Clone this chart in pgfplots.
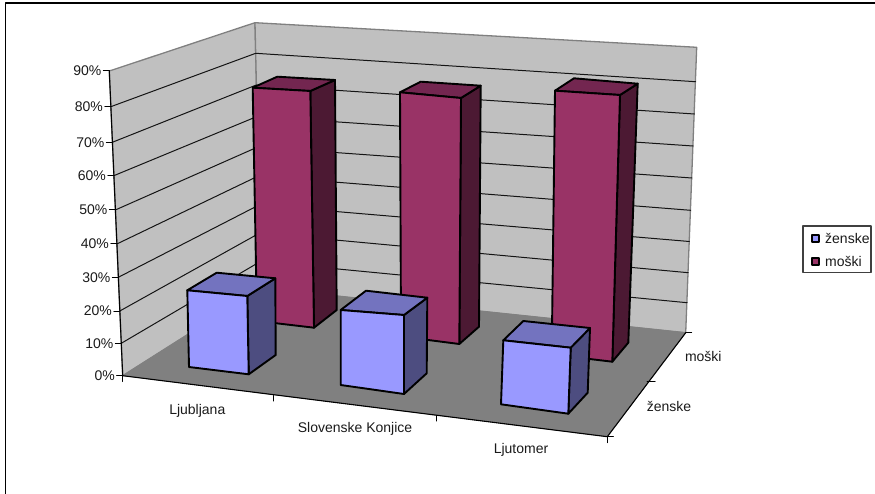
\documentclass[border=0pt]{standalone}
\usepackage{pgfplots}
\pgfplotsset{compat=1.18}
\usepackage{fontspec}
\setmainfont{Liberation Sans}
\definecolor{wall}{HTML}{C0C0C0}
\definecolor{floorc}{HTML}{808080}
\definecolor{zfront}{HTML}{9999FF}
\definecolor{ztop}{HTML}{7373BF}
\definecolor{zside}{HTML}{4D4D80}
\definecolor{mfront}{HTML}{993366}
\definecolor{mtop}{HTML}{732650}
\definecolor{mside}{HTML}{4C1933}
\definecolor{txt}{HTML}{1A1A1A}
\tikzset{
  wallface/.style={fill=wall, draw=floorc, line width=1.3pt},
  grid seg/.style={draw=black!92, line width=1pt},
  axis seg/.style={draw=black, line width=1.1pt},
  tick seg/.style={draw=black, line width=1pt},
  face/.style={fill=#1, draw=black, line width=1.9pt},
  lbl/.style={font=\fontsize{14}{16}\selectfont, text=txt, inner sep=0pt},
}
\begin{document}
\begin{tikzpicture}[x=1pt,y=1pt]
\path[use as bounding box] (0,0) rectangle (875,494);
\begin{axis}[
  at={(0,0)}, anchor=south west,
  width=875pt, height=494pt, scale only axis,
  xmin=0, xmax=875, ymin=0, ymax=494, y dir=reverse,
  hide axis, clip=false,
  every axis plot/.append style={no markers, line join=round, line cap=round},
]
% chart frame: only the top and left rules show
\addplot[draw=black, line width=1.8pt] coordinates {(5.5,494) (5.5,3) (875,3)};

% side and back walls
\addplot[wallface] coordinates {(109.3,71) (255,22.7) (261,288) (122.7,375.7)} --cycle;
\addplot[wallface] coordinates {(255,22.7) (696.7,47.3) (685.7,332.7) (261,288)} --cycle;

% gridlines, 10% to 80%, running over both walls
\addplot[grid seg] coordinates {(121.3,343.3) (260.3,261.5) (687.0,302.7)};
\addplot[grid seg] coordinates {(119.8,311.0) (259.7,233.0) (688.2,272.7)};
\addplot[grid seg] coordinates {(118.3,277.3) (259.0,205.0) (689.4,241.5)};
\addplot[grid seg] coordinates {(116.8,244.0) (258.3,176.0) (690.6,210.3)};
\addplot[grid seg] coordinates {(115.3,210.0) (257.7,147.0) (691.9,178.0)};
\addplot[grid seg] coordinates {(113.8,175.7) (257.0,116.5) (693.1,146.0)};
\addplot[grid seg] coordinates {(112.3,142.3) (256.3,85.0) (694.3,114.0)};
\addplot[grid seg] coordinates {(110.8,106.7) (255.7,53.3) (695.5,81.7)};

% floor
\addplot[fill=floorc, draw=floorc, line width=0.6pt] coordinates {(122.7,375.7) (261,288) (685.7,332.7) (607.3,436.7)} --cycle;

% value axis with its ticks
\addplot[axis seg] coordinates {(109.3,71) (122.7,375.7)};
\addplot[tick seg] coordinates {(103.3,71) (109.3,71)};
\addplot[tick seg] coordinates {(104.8,106.7) (110.8,106.7)};
\addplot[tick seg] coordinates {(106.3,142.3) (112.3,142.3)};
\addplot[tick seg] coordinates {(107.8,175.7) (113.8,175.7)};
\addplot[tick seg] coordinates {(109.3,210) (115.3,210)};
\addplot[tick seg] coordinates {(110.8,244) (116.8,244)};
\addplot[tick seg] coordinates {(112.3,277.3) (118.3,277.3)};
\addplot[tick seg] coordinates {(113.8,311) (119.8,311)};
\addplot[tick seg] coordinates {(115.3,343.3) (121.3,343.3)};
\addplot[tick seg] coordinates {(116.7,375.7) (122.7,375.7)};

% category and series axes with their ticks
\addplot[axis seg] coordinates {(122.7,375.7) (607.3,436.7) (685.7,332.7)};
\addplot[tick seg] coordinates {(122.7,375.7) (122.7,381.5)};
\addplot[tick seg] coordinates {(273.7,395.5) (273.7,401)};
\addplot[tick seg] coordinates {(436.7,415.7) (436.7,421)};
\addplot[tick seg] coordinates {(607.3,436.7) (607.3,442.7)};
\addplot[tick seg] coordinates {(607.3,436.7) (613.3,436.7)};
\addplot[tick seg] coordinates {(647.0,381.7) (655.0,381.7)};
\addplot[tick seg] coordinates {(685.7,332.7) (691.7,332.7)};

% moški columns
\addplot[face=mside]  coordinates {(310.3,91) (335,80) (336.7,310) (314,327.7)} --cycle;
\addplot[face=mtop]   coordinates {(252.7,87.7) (310.3,91) (335,80) (277.3,76.7)} --cycle;
\addplot[face=mfront] coordinates {(252.7,87.7) (310.3,91) (314,327.7) (257,321)} --cycle;

\addplot[face=mside]  coordinates {(461,98) (480.7,85.7) (479,326.7) (459.3,344)} --cycle;
\addplot[face=mtop]   coordinates {(400,92.3) (461,98) (480.7,85.7) (420.7,81.7)} --cycle;
\addplot[face=mfront] coordinates {(400,92.3) (461,98) (459.3,344) (401,336.5)} --cycle;

\addplot[face=mside]  coordinates {(620,95) (637.7,83.7) (628.3,342.7) (612.3,361.7)} --cycle;
\addplot[face=mtop]   coordinates {(555,90.7) (620,95) (637.7,83.7) (574,78.3)} --cycle;
\addplot[face=mfront] coordinates {(555,90.7) (620,95) (612.3,361.7) (551.7,354.5)} --cycle;

% ženske columns
\addplot[face=zside]  coordinates {(247.3,296) (275.3,278.3) (275.7,355) (248.7,374.3)} --cycle;
\addplot[face=ztop]   coordinates {(187.3,290.3) (247.3,296) (275.3,278.3) (216.7,272.7)} --cycle;
\addplot[face=zfront] coordinates {(187.3,290.3) (247.3,296) (248.7,374.3) (189,367)} --cycle;

\addplot[face=zside]  coordinates {(404,315) (427.3,297.7) (426.7,373.3) (404,394)} --cycle;
\addplot[face=ztop]   coordinates {(340.7,310) (404,315) (427.3,297.7) (366,290.7)} --cycle;
\addplot[face=zfront] coordinates {(340.7,310) (404,315) (404,394) (340.7,385)} --cycle;

\addplot[face=zside]  coordinates {(570.7,347.7) (590,328) (587.7,392.7) (568.3,413.7)} --cycle;
\addplot[face=ztop]   coordinates {(503.3,340.3) (570.7,347.7) (590,328) (523.3,321)} --cycle;
\addplot[face=zfront] coordinates {(503.3,340.3) (570.7,347.7) (568.3,413.7) (501,404.3)} --cycle;

% value labels
\node[lbl, anchor=east] at (axis cs:101.5,71)    {90\%};
\node[lbl, anchor=east] at (axis cs:103,106.7)   {80\%};
\node[lbl, anchor=east] at (axis cs:104.5,142.3) {70\%};
\node[lbl, anchor=east] at (axis cs:106,175.7)   {60\%};
\node[lbl, anchor=east] at (axis cs:107.5,210)   {50\%};
\node[lbl, anchor=east] at (axis cs:109,244)     {40\%};
\node[lbl, anchor=east] at (axis cs:110.5,277.3) {30\%};
\node[lbl, anchor=east] at (axis cs:112,311)     {20\%};
\node[lbl, anchor=east] at (axis cs:113.5,343.3) {10\%};
\node[lbl, anchor=east] at (axis cs:115,375.7)   {0\%};

% category and series labels
\node[lbl] at (axis cs:197.3,411) {Ljubljana};
\node[lbl] at (axis cs:355,429)   {Slovenske Konjice};
\node[lbl] at (axis cs:521,450)   {Ljutomer};
\node[lbl] at (axis cs:669,406.7) {ženske};
\node[lbl] at (axis cs:703.3,356) {moški};

% legend
\addplot[fill=white, draw=black!75, line width=1.1pt] coordinates {(803,226) (871,226) (871,272.3) (803,272.3)} --cycle;
\addplot[fill=zfront, draw=black, line width=1.5pt] coordinates {(812,234.8) (819,234.8) (819,241.8) (812,241.8)} --cycle;
\addplot[fill=mfront, draw=black, line width=1.5pt] coordinates {(812,258.2) (819,258.2) (819,265.2) (812,265.2)} --cycle;
\node[lbl, anchor=west] at (axis cs:825,238.3) {ženske};
\node[lbl, anchor=west] at (axis cs:825,261.7) {moški};
\end{axis}
\end{tikzpicture}
\end{document}
